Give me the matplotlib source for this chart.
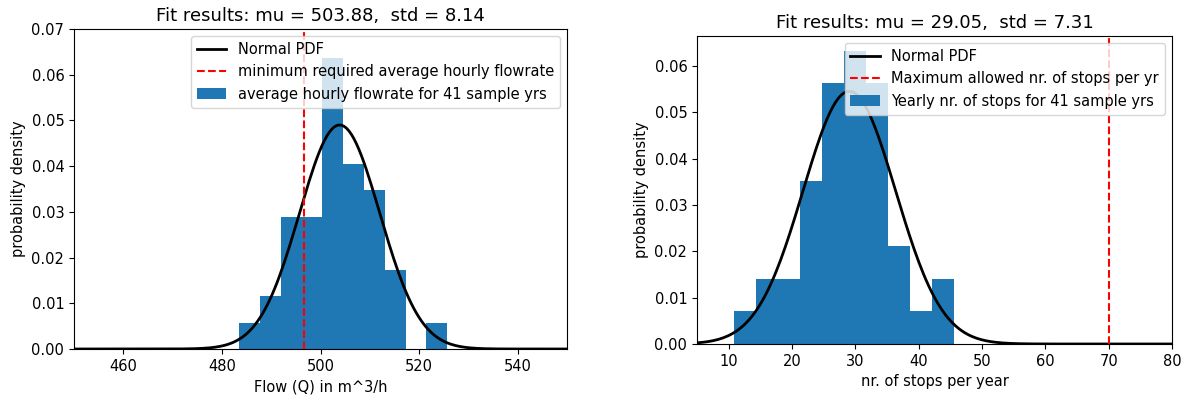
import numpy as np
import matplotlib
matplotlib.use("Agg")
import matplotlib.pyplot as plt

# ---- data ----
flow_bin_edges = [483.5, 487.72, 491.94, 496.16, 500.38, 504.6, 508.82, 513.04, 517.26, 521.48, 525.7]
flow_counts = [1, 2, 5, 5, 11, 7, 6, 3, 0, 1]
flow_mu = 503.88
flow_std = 8.14
flow_min_required = 496.7

stops_bin_edges = [10.9, 14.365, 17.83, 21.295, 24.76, 28.225, 31.69, 35.155, 38.62, 42.085, 45.55]
stops_counts = [1, 2, 2, 5, 8, 9, 8, 3, 1, 2]
stops_mu = 29.05
stops_std = 7.31
stops_max_allowed = 70

flow_xticks = [460, 480, 500, 520, 540]
stops_xticks = [10, 20, 30, 40, 50, 60, 70, 80]

plt.rcParams['font.family'] = ['DejaVu Sans']
plt.rcParams['font.size'] = 10.5

fig = plt.figure(figsize=(11.84, 3.98), dpi=100)
ax1 = fig.add_axes([74/1184, 1-349/398, 493/1184, 320/398])
ax2 = fig.add_axes([697/1184, 1-344/398, 475/1184, 308/398])


def normal_pdf(x, mu, std):
    return np.exp(-0.5 * ((x - mu) / std) ** 2) / (std * np.sqrt(2 * np.pi))


def panel(ax, edges, counts, mu, std, vline, xlim, xticks, labels, xlabel, ylim=None):
    edges = np.asarray(edges)
    centers = 0.5 * (edges[:-1] + edges[1:])
    ax.hist(centers, bins=edges, weights=counts, density=True, color='#1f77b4',
            label=labels[2])
    x = np.linspace(xlim[0], xlim[1], 200)
    ax.plot(x, normal_pdf(x, mu, std), 'k', linewidth=2, label=labels[0])
    ax.axvline(vline, color='red', linestyle='--', label=labels[1])
    ax.set_xlim(*xlim)
    if ylim is not None:
        ax.set_ylim(*ylim)
    else:
        ax.set_ylim(bottom=0)
    ax.set_xticks(xticks)
    ax.yaxis.set_major_formatter(matplotlib.ticker.FormatStrFormatter('%.2f'))
    ax.set_xlabel(xlabel)
    ax.set_ylabel('probability density')
    ax.set_title(f"Fit results: mu = {mu:.2f},  std = {std:.2f}", fontsize=13)
    h, l = ax.get_legend_handles_labels()
    order = [l.index(labels[0]), l.index(labels[1]), l.index(labels[2])]
    ax.legend([h[i] for i in order], [l[i] for i in order], loc='upper right')


panel(ax1, flow_bin_edges, flow_counts, flow_mu, flow_std, flow_min_required,
      (450, 550), flow_xticks,
      ['Normal PDF', 'minimum required average hourly flowrate',
       'average hourly flowrate for 41 sample yrs'],
      'Flow (Q) in m^3/h', ylim=(0, 0.07))
panel(ax2, stops_bin_edges, stops_counts, stops_mu, stops_std, stops_max_allowed,
      (5, 80), stops_xticks,
      ['Normal PDF', 'Maximum allowed nr. of stops per yr',
       'Yearly nr. of stops for 41 sample yrs'],
      'nr. of stops per year')

fig.savefig('out.png', dpi=100)
